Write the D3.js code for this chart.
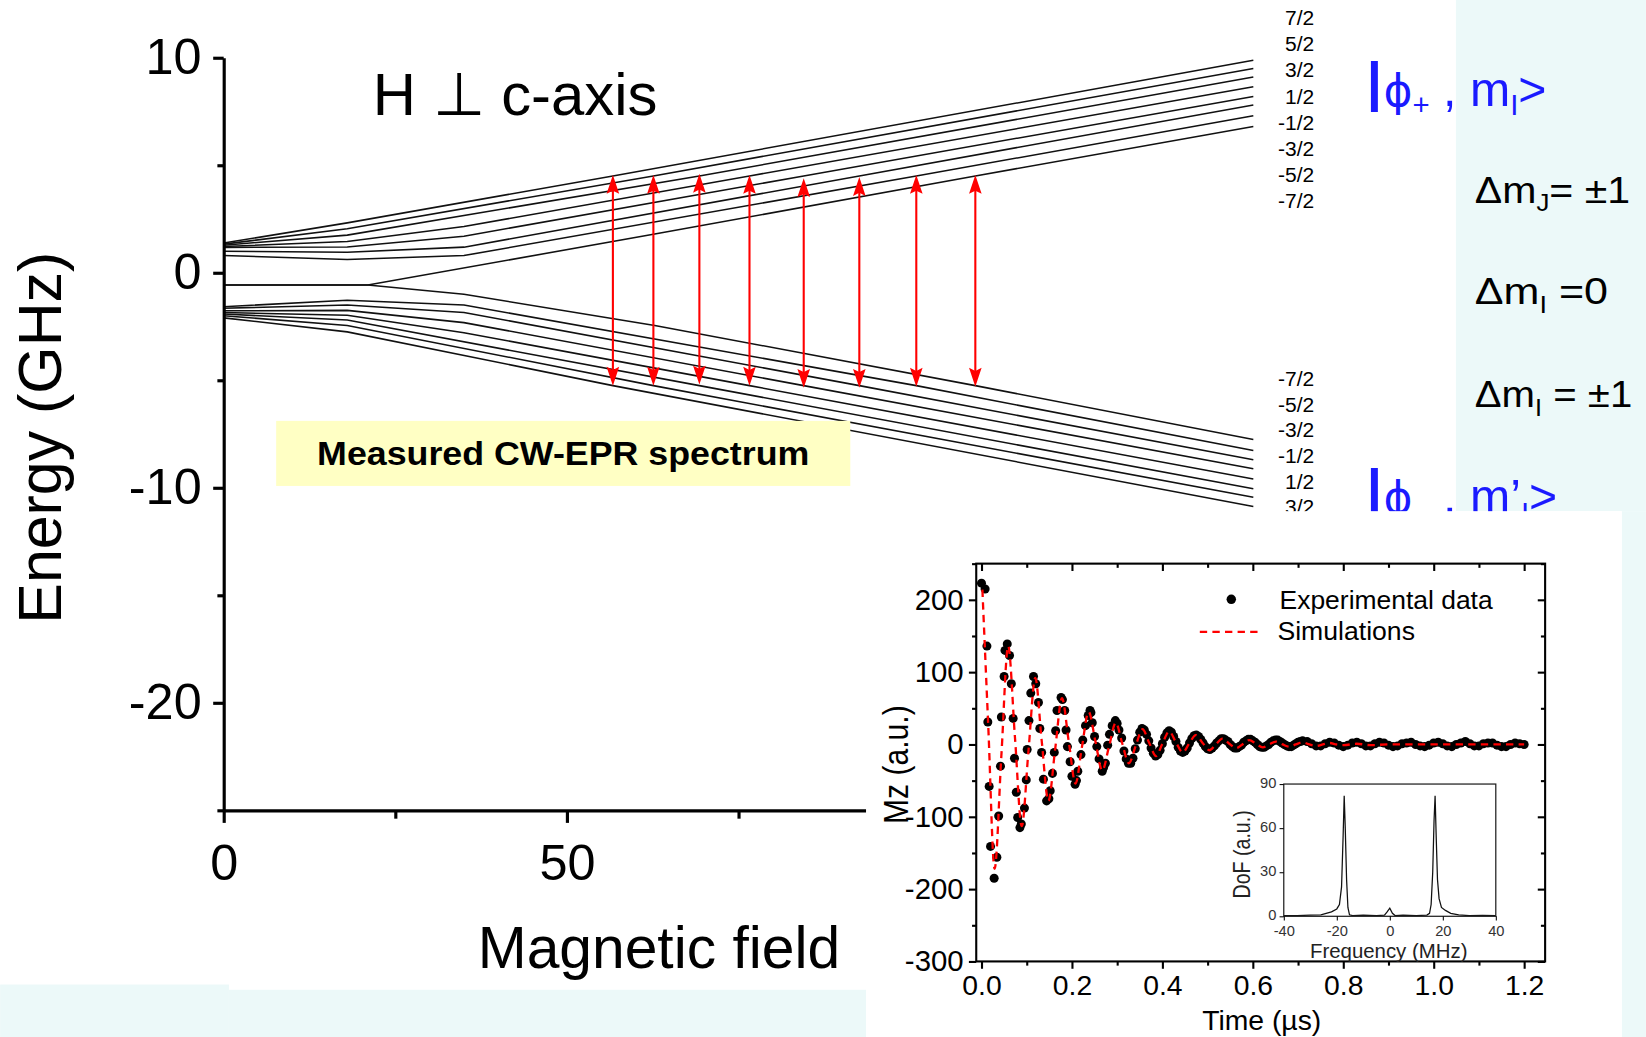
<!DOCTYPE html>
<html>
<head>
<meta charset="utf-8">
<script src="https://cdn.jsdelivr.net/npm/d3@7"></script>
<style>
  html, body { margin: 0; padding: 0; background: #fff; }
  svg { display: block; }
  text { font-family: "Liberation Sans", Arial, sans-serif; }
</style>
</head>
<body>
<svg id="chart" width="1646" height="1037" viewBox="0 0 1568 988"></svg>
<script>
// ---- main Zeeman diagram ----
var fieldDomain = [0, 150];
var energyDomain = [-25, 10];
var energyTicks = [10, 0, -10, -20];
var energyMinor = [5, -5, -15, -25];
var fieldTicks = [0, 50];
var fieldMinor = [25, 75];

// levels of the upper doublet, mI = 7/2 ... -7/2  (field, GHz)
var upperLevels = [
  [[0, 1.38], [18, 2.32], [56.7, 4.5], [150, 9.88]],
  [[0, 1.33], [18, 2.05], [62.6, 4.5], [150, 9.5]],
  [[0, 1.28], [18, 1.75], [69.3, 4.5], [150, 9.1]],
  [[0, 1.22], [18, 1.45], [35, 2.15], [76.6, 4.5], [150, 8.65]],
  [[0, 1.18], [18, 1.2], [35, 1.7], [84.5, 4.5], [150, 8.2]],
  [[0, 1.0], [18, 0.95], [35, 1.19], [92.6, 4.5], [150, 7.8]],
  [[0, 0.8], [18, 0.62], [35, 0.8], [100.9, 4.5], [150, 7.3]],
  [[0, -0.57], [21, -0.57], [62.8, 1.8], [109.5, 4.5], [150, 6.8]]
];
// levels of the lower doublet, mI = 7/2 (bottom) ... -7/2 (top)
var lowerLevels = [
  [[0, -2.1], [18, -2.75], [56.7, -5.25], [150, -10.87]],
  [[0, -2.0], [18, -2.45], [62.6, -5.25], [150, -10.44]],
  [[0, -1.92], [18, -2.2], [69.3, -5.25], [150, -10.05]],
  [[0, -1.85], [18, -1.98], [35, -2.79], [76.6, -5.25], [150, -9.59]],
  [[0, -1.77], [18, -1.75], [35, -2.32], [84.5, -5.25], [150, -9.12]],
  [[0, -1.65], [18, -1.5], [35, -1.85], [92.6, -5.25], [150, -8.7]],
  [[0, -1.58], [18, -1.28], [35, -1.5], [100.9, -5.25], [150, -8.27]],
  [[0, -0.57], [21, -0.57], [35, -1.0], [62.8, -2.45], [109.5, -5.25], [150, -7.76]]
];
var upperLabels = ["7/2", "5/2", "3/2", "1/2", "-1/2", "-3/2", "-5/2", "-7/2"];
var lowerLabels = ["-7/2", "-5/2", "-3/2", "-1/2", "1/2", "3/2"];

var arrowFields = [56.7, 62.6, 69.3, 76.6, 84.5, 92.6, 100.9, 109.5];
var arrowTop = [4.55, 4.55, 4.6, 4.55, 4.4, 4.45, 4.55, 4.55];
var arrowBottom = [-5.25, -5.25, -5.2, -5.25, -5.35, -5.35, -5.3, -5.3];

// ---- inset: Rabi oscillation ----
var timeTicks = [0, 0.2, 0.4, 0.6, 0.8, 1.0, 1.2];
var timeMinor = [0.1, 0.3, 0.5, 0.7, 0.9, 1.1];
var mzTicks = [-300, -200, -100, 0, 100, 200];
var mzMinor = [-250, -150, -50, 50, 150, 250];

var expData = [
  [0.000,223],[0.008,215],[0.012,136],[0.014,31],[0.017,-58],[0.020,-141],[0.028,-185],[0.034,-156],
  [0.038,-99],[0.042,-30],[0.044,38],[0.050,94],[0.052,130],[0.057,139],[0.062,123],[0.066,84],
  [0.070,36],[0.073,-19],[0.077,-66],[0.080,-101],[0.085,-115],[0.088,-110],[0.095,-88],[0.099,-49],
  [0.101,-7],[0.105,33],[0.109,71],[0.115,94],[0.120,84],[0.126,58],[0.129,22],[0.133,-11],
  [0.137,-48],[0.144,-78],[0.149,-75],[0.152,-64],[0.157,-40],[0.161,-11],[0.164,19],[0.167,47],
  [0.176,65],[0.179,62],[0.184,47],[0.187,20],[0.190,-3],[0.196,-24],[0.200,-44],[0.207,-55],
  [0.210,-50],[0.213,-37],[0.220,-14],[0.224,6],[0.230,26],[0.236,40],[0.240,47],[0.242,44],
  [0.245,30],[0.250,11],[0.255,-3],[0.260,-20],[0.267,-37],[0.270,-32],[0.274,-26],[0.279,-1],
  [0.283,14],[0.289,26],[0.296,33],[0.300,29],[0.304,20],[0.310,9],
  [0.315,-9],[0.320,-20],[0.325,-26],[0.330,-26],[0.335,-19],[0.340,-6],[0.345,6],[0.350,17],
  [0.355,22],[0.360,20],[0.365,14],[0.370,5],[0.375,-5],[0.380,-12],[0.385,-16],[0.390,-14],
  [0.395,-8],[0.400,1],[0.405,10],[0.410,16],[0.415,19],[0.420,17],[0.425,11],[0.430,4],
  [0.435,-4],[0.440,-9],[0.445,-11],[0.450,-9],[0.455,-5],[0.460,2],[0.465,8],[0.470,12],
  [0.475,13],[0.480,11],[0.485,7],[0.490,2],[0.495,-3],[0.500,-6],[0.505,-7],[0.510,-5],
  [0.515,-2],[0.520,2],[0.525,5],[0.530,8],[0.535,8],[0.540,6],[0.545,4],[0.550,0],
  [0.555,-3],[0.560,-5],[0.565,-5],[0.570,-3],[0.575,-1],[0.580,3],[0.585,5],[0.590,7],
  [0.595,7],[0.600,5],[0.605,3],[0.610,0],[0.615,-3],[0.620,-4],[0.625,-4],[0.630,-2],
  [0.635,0],[0.640,3],[0.645,5],[0.650,6],[0.655,6],[0.660,4],[0.665,2],[0.670,0],
  [0.675,-2],[0.680,-3],[0.685,-3],[0.690,-1],[0.695,1],[0.700,3],[0.705,4],[0.710,5],
  [0.72,4],[0.73,1],[0.74,-2],[0.75,-2],[0.76,1],[0.77,3],[0.78,2],[0.79,-1],
  [0.80,-3],[0.81,-1],[0.82,2],[0.83,3],[0.84,1],[0.85,-2],[0.86,-2],[0.87,1],
  [0.88,3],[0.89,2],[0.90,-1],[0.91,-3],[0.92,-2],[0.93,1],[0.94,2],[0.95,3],
  [0.96,0],[0.97,-2],[0.98,-3],[0.99,-1],[1.00,2],[1.01,3],[1.02,1],[1.03,-2],
  [1.04,-3],[1.05,0],[1.06,2],[1.07,4],[1.08,1],[1.09,-2],[1.10,-2],[1.11,1],
  [1.12,2],[1.13,2],[1.14,-1],[1.15,-3],[1.16,-3],[1.17,0],[1.18,2],[1.19,1],[1.20,0]
];

var simData = [
  [0.002,214],[0.015,25],[0.029,-172],[0.044,-15],[0.059,136],[0.074,10],[0.089,-113],[0.104,-8],
  [0.119,92],[0.133,6],[0.148,-78],[0.163,-6],[0.178,64],[0.193,4],[0.208,-54],[0.222,-4],
  [0.237,45],[0.252,4],[0.267,-36],[0.282,-3],[0.297,30],[0.311,2],[0.326,-26],[0.341,-2],
  [0.356,21],[0.371,2],[0.386,-16],[0.400,1],[0.415,18],[0.430,3],[0.445,-11],[0.459,1],
  [0.474,13],[0.489,2],[0.504,-8],[0.518,0],[0.533,8],[0.548,1],[0.563,-5],[0.577,0],
  [0.592,6],[0.607,1],[0.622,-4],[0.636,0],[0.651,4],[0.666,0],[0.681,-3],[0.695,0],
  [0.710,3],[0.725,0],[0.740,-2],[0.755,0],[0.770,2],[0.785,0],[0.800,-1],[0.830,1],
  [0.860,-1],[0.900,0],[1.200,0]
];

// ---- small inset: Fourier spectrum ----
var freqTicks = [-40, -20, 0, 20, 40];
var dofTicks = [0, 30, 60, 90];
var dofData = [
  [-40,0.5],[-35,0.5],[-30,0.8],[-26,1],[-24,2],[-22,3],[-20,5],[-19,8],[-18.2,20],[-17.6,55],
  [-17.2,82],[-16.8,60],[-16.3,25],[-15.8,6],[-15.2,1],[-14,0.5],[-10,0.8],[-5,0.5],[-2,0.8],
  [-1,3],[0,5.5],[1,2],[2,0.5],[5,0.8],[10,0.5],[14,0.8],[15,2],[15.6,8],[16.2,30],[16.7,65],
  [17.1,82],[17.5,55],[18,25],[18.6,12],[19.5,6],[21,4],[23,2],[26,1],[30,0.5],[35,0.6],[40,0.5]
];

var svg = d3.select("#chart");
var cyan = "#ecf9f9";
var blue = "#1a1aff";
var fmtInt = function(d) { return String(d); };

// background panels
svg.append("rect").attr("width", 1568).attr("height", 988).attr("fill", "#fff");
svg.append("rect").attr("x", 1387).attr("y", 0).attr("width", 181).attr("height", 487).attr("fill", cyan);
svg.append("rect").attr("x", 1545).attr("y", 487).attr("width", 23).attr("height", 501).attr("fill", cyan);
svg.append("rect").attr("x", 0).attr("y", 938).attr("width", 218).attr("height", 50).attr("fill", cyan);
svg.append("rect").attr("x", 218).attr("y", 943).attr("width", 607).attr("height", 45).attr("fill", cyan);

// ---------- main plot ----------
var xE = d3.scaleLinear().domain(fieldDomain).range([213, 1194]);
var yE = d3.scaleLinear().domain(energyDomain).range([772, 55]);
var gMain = svg.append("g");

var levelLine = d3.line().x(function(d) { return xE(d[0]); }).y(function(d) { return yE(d[1]); });
gMain.selectAll("path.level")
  .data(upperLevels.concat(lowerLevels))
  .join("path")
  .attr("class", "level")
  .attr("d", levelLine)
  .attr("fill", "none")
  .attr("stroke", "#111")
  .attr("stroke-width", 1.5);

// transition arrows
var arrows = gMain.selectAll("g.arrow")
  .data(arrowFields.map(function(f, i) { return { f: f, top: arrowTop[i], bot: arrowBottom[i] }; }))
  .join("g")
  .attr("class", "arrow");
arrows.append("line")
  .attr("x1", function(d) { return xE(d.f); }).attr("x2", function(d) { return xE(d.f); })
  .attr("y1", function(d) { return yE(d.top) + 8; }).attr("y2", function(d) { return yE(d.bot) - 8; })
  .attr("stroke", "#ff0000").attr("stroke-width", 2);
arrows.append("path")
  .attr("d", function(d) {
    var x = xE(d.f), y = yE(d.top);
    return "M" + x + "," + y + "L" + (x - 6) + "," + (y + 18) + "L" + x + "," + (y + 15) + "L" + (x + 6) + "," + (y + 18) + "Z";
  })
  .attr("fill", "#ff0000");
arrows.append("path")
  .attr("d", function(d) {
    var x = xE(d.f), y = yE(d.bot);
    return "M" + x + "," + y + "L" + (x - 6) + "," + (y - 18) + "L" + x + "," + (y - 15) + "L" + (x + 6) + "," + (y - 18) + "Z";
  })
  .attr("fill", "#ff0000");

function styleAxis(g, size, width) {
  g.attr("font-family", "Liberation Sans, Arial, sans-serif").attr("font-size", size);
  g.selectAll("path, line").attr("stroke", "#000").attr("stroke-width", width);
  g.selectAll("text").attr("fill", "#000");
}

var gy = gMain.append("g").attr("transform", "translate(213,0)")
  .call(d3.axisLeft(yE).tickValues(energyTicks).tickSize(10).tickSizeOuter(0).tickPadding(11).tickFormat(fmtInt));
styleAxis(gy, 48, 3);
var gy2 = gMain.append("g").attr("transform", "translate(213,0)")
  .call(d3.axisLeft(yE).tickValues(energyMinor).tickSize(6).tickSizeOuter(0).tickFormat(""));
styleAxis(gy2, 10, 3);
gy2.select(".domain").remove();

var gx = gMain.append("g").attr("transform", "translate(0,772)")
  .call(d3.axisBottom(xE).tickValues(fieldTicks).tickSize(12).tickSizeOuter(0).tickPadding(20).tickFormat(fmtInt));
styleAxis(gx, 48, 3);
var gx2 = gMain.append("g").attr("transform", "translate(0,772)")
  .call(d3.axisBottom(xE).tickValues(fieldMinor).tickSize(8).tickSizeOuter(0).tickFormat(""));
styleAxis(gx2, 10, 3);
gx2.select(".domain").remove();

gMain.append("text")
  .attr("transform", "translate(58,417) rotate(-90)")
  .attr("text-anchor", "middle").attr("font-size", 58)
  .text("Energy (GHz)");
gMain.append("text")
  .attr("x", 455).attr("y", 922).attr("font-size", 56)
  .text("Magnetic field");
gMain.append("text")
  .attr("x", 355).attr("y", 110).attr("font-size", 57)
  .text("H \u22A5 c-axis");

// m_I labels on the right
gMain.selectAll("text.mup").data(upperLabels).join("text")
  .attr("class", "mup")
  .attr("x", 1252).attr("y", function(d, i) { return 24 + i * 24.9; })
  .attr("text-anchor", "end").attr("font-size", 20)
  .text(function(d) { return d; });
gMain.selectAll("text.mlo").data(lowerLabels).join("text")
  .attr("class", "mlo")
  .attr("x", 1252).attr("y", function(d, i) { return 368 + i * 24.4; })
  .attr("text-anchor", "end").attr("font-size", 20)
  .text(function(d) { return d; });

// yellow annotation box
gMain.append("rect").attr("x", 263).attr("y", 401).attr("width", 547).attr("height", 62).attr("fill", "#ffffc4");
gMain.append("text")
  .attr("x", 302).attr("y", 443)
  .attr("font-family", "Liberation Serif, 'Times New Roman', serif")
  .attr("font-weight", "bold").attr("font-size", 32)
  .attr("textLength", 469).attr("lengthAdjust", "spacingAndGlyphs")
  .text("Measured CW-EPR spectrum");

// ket labels
function ket(y, sign, prime) {
  svg.append("text").attr("x", 1302).attr("y", y - 6).attr("fill", blue)
    .attr("font-size", 52).attr("font-weight", "bold").text("|");
  var t = svg.append("text").attr("x", 1318).attr("y", y).attr("fill", blue).attr("font-size", 46);
  t.append("tspan").attr("font-family", "DejaVu Sans, sans-serif").attr("font-size", 42).text("\u03D5");
  t.append("tspan").attr("font-size", 28).attr("dy", 9).text(sign);
  t.append("tspan").attr("dy", -9).text(" , m" + (prime ? "\u2019" : ""));
  t.append("tspan").attr("font-size", 28).attr("dy", 9).text("I");
  t.append("tspan").attr("dy", -9).text(">");
}
ket(101, "+", false);
ket(489, "\u2212", true);

// selection rules
function rule(y, sub, rest, len) {
  var t = svg.append("text").attr("x", 1405).attr("y", y).attr("font-size", 35)
    .attr("textLength", len).attr("lengthAdjust", "spacingAndGlyphs");
  t.append("tspan").text("\u0394m");
  t.append("tspan").attr("font-size", 22).attr("dy", 8).text(sub);
  t.append("tspan").attr("dy", -8).text(rest);
}
rule(193, "J", "= \u00B11", 148);
rule(290, "I", "  =0", 127);
rule(388, "I", " = \u00B11", 150);

// ---------- inset: Rabi oscillations ----------
svg.append("rect").attr("x", 825).attr("y", 487).attr("width", 720).attr("height", 501).attr("fill", "#fff");

var xT = d3.scaleLinear().domain([0, 1.2]).range([935, 1452]);
var yM = d3.scaleLinear().domain([-300, 250]).range([916, 537]);
var gIn = svg.append("g");

gIn.selectAll("circle.exp").data(expData).join("circle")
  .attr("class", "exp")
  .attr("cx", function(d) { return xT(d[0]); })
  .attr("cy", function(d) { return yM(d[1]); })
  .attr("r", 4.3)
  .attr("fill", "#000");

gIn.append("path")
  .datum(simData)
  .attr("d", d3.line().curve(d3.curveMonotoneX)
    .x(function(d) { return xT(d[0]); })
    .y(function(d) { return yM(d[1]); }))
  .attr("fill", "none").attr("stroke", "#ff0000").attr("stroke-width", 2.2)
  .attr("stroke-dasharray", "7,5");

gIn.append("rect").attr("x", 930).attr("y", 537).attr("width", 542).attr("height", 379)
  .attr("fill", "none").attr("stroke", "#000").attr("stroke-width", 2);

function insetAxis(axis, tr, size, labels) {
  var g = gIn.append("g").attr("transform", tr).call(axis);
  g.select(".domain").remove();
  styleAxis(g, size, 2);
  if (!labels) g.selectAll("text").remove();
  return g;
}
insetAxis(d3.axisLeft(yM).tickValues(mzTicks).tickSize(7).tickPadding(5).tickFormat(fmtInt), "translate(930,0)", 28, true);
insetAxis(d3.axisLeft(yM).tickValues(mzMinor).tickSize(4), "translate(930,0)", 10, false);
insetAxis(d3.axisLeft(yM).tickValues(mzTicks).tickSize(7), "translate(1472,0)", 10, false);
insetAxis(d3.axisLeft(yM).tickValues(mzMinor).tickSize(4), "translate(1472,0)", 10, false);
insetAxis(d3.axisBottom(xT).tickValues(timeTicks).tickSize(7).tickPadding(6).tickFormat(d3.format(".1f")), "translate(0,916)", 27, true);
insetAxis(d3.axisBottom(xT).tickValues(timeMinor).tickSize(4), "translate(0,916)", 10, false);
insetAxis(d3.axisBottom(xT).tickValues(timeTicks).tickSize(7), "translate(0,537)", 10, false);
insetAxis(d3.axisBottom(xT).tickValues(timeMinor).tickSize(4), "translate(0,537)", 10, false);

gIn.append("text")
  .attr("transform", "translate(865,785) rotate(-90)")
  .attr("font-size", 34).attr("textLength", 113).attr("lengthAdjust", "spacingAndGlyphs")
  .text("Mz (a.u.)");
gIn.append("text")
  .attr("x", 1202).attr("y", 981).attr("text-anchor", "middle").attr("font-size", 27)
  .text("Time (\u00B5s)");

// legend
gIn.append("circle").attr("cx", 1173).attr("cy", 571).attr("r", 4.5).attr("fill", "#000");
gIn.append("text").attr("x", 1219).attr("y", 580).attr("font-size", 24)
  .attr("textLength", 203).attr("lengthAdjust", "spacingAndGlyphs").text("Experimental data");
gIn.append("line").attr("x1", 1143).attr("x2", 1200).attr("y1", 602).attr("y2", 602)
  .attr("stroke", "#ff0000").attr("stroke-width", 2).attr("stroke-dasharray", "7,5");
gIn.append("text").attr("x", 1217).attr("y", 610).attr("font-size", 24)
  .attr("textLength", 131).attr("lengthAdjust", "spacingAndGlyphs").text("Simulations");

// ---------- small inset: DoF spectrum ----------
var xF = d3.scaleLinear().domain([-40, 40]).range([1223, 1425]);
var yF = d3.scaleLinear().domain([0, 90]).range([873, 747]);
var gF = svg.append("g");
gF.append("path")
  .datum(dofData)
  .attr("d", d3.line().x(function(d) { return xF(d[0]); }).y(function(d) { return yF(d[1]); }))
  .attr("fill", "none").attr("stroke", "#111").attr("stroke-width", 1.2);
gF.append("rect").attr("x", 1223).attr("y", 747).attr("width", 202).attr("height", 126)
  .attr("fill", "none").attr("stroke", "#222").attr("stroke-width", 1.2);
var gfy = gF.append("g").attr("transform", "translate(1223,0)")
  .call(d3.axisLeft(yF).tickValues(dofTicks).tickSize(4).tickPadding(3).tickFormat(fmtInt));
gfy.select(".domain").remove();
styleAxis(gfy, 14, 1);
gfy.selectAll("text").attr("fill", "#333").attr("dy", "0.2em");
var gfx = gF.append("g").attr("transform", "translate(0,873)")
  .call(d3.axisBottom(xF).tickValues(freqTicks).tickSize(4).tickPadding(5).tickFormat(fmtInt));
gfx.select(".domain").remove();
styleAxis(gfx, 14, 1);
gfx.selectAll("text").attr("fill", "#333");

gF.append("text")
  .attr("transform", "translate(1191,856) rotate(-90)")
  .attr("font-size", 22).attr("fill", "#222")
  .attr("textLength", 84).attr("lengthAdjust", "spacingAndGlyphs")
  .text("DoF (a.u.)");
gF.append("text")
  .attr("x", 1248).attr("y", 913).attr("font-size", 19).attr("fill", "#222")
  .attr("textLength", 150).attr("lengthAdjust", "spacingAndGlyphs")
  .text("Frequency (MHz)");
</script>
</body>
</html>
